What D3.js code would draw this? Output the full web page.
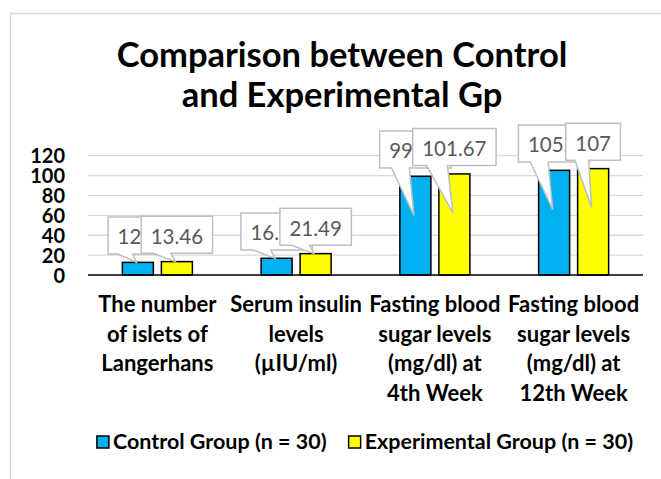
<!DOCTYPE html>
<html>
<head>
<meta charset="utf-8">
<script src="https://cdn.jsdelivr.net/npm/d3@7"></script>
<style>
  html, body { margin: 0; padding: 0; background: #ffffff; }
  svg { display: block; }
  text { font-family: Lato, "Open Sans", sans-serif; }
</style>
</head>
<body>
<svg id="chart" width="661" height="479"></svg>
<script>
// ---- data ----
const titleLines = ["Comparison between Control", "and Experimental Gp"];
const categories = ["The number of islets of Langerhans", "Serum insulin levels (µIU/ml)",
  "Fasting blood sugar levels (mg/dl) at 4th Week", "Fasting blood sugar levels (mg/dl) at 12th Week"];
const categoryLines = [
  ["The number", "of islets of", "Langerhans"],
  ["Serum insulin", "levels", "(µIU/ml)"],
  ["Fasting blood", "sugar levels", "(mg/dl) at", "4th Week"],
  ["Fasting blood", "sugar levels", "(mg/dl) at", "12th Week"]
];
const seriesNames = ["Control Group (n = 30)", "Experimental Group (n = 30)"];
const controlValues = [12.7, 16.82, 99.27, 105.3];
const experimentalValues = [13.46, 21.49, 101.67, 107];
const yTicks = [0, 20, 40, 60, 80, 100, 120];
const seriesColors = ["#00b0f0", "#ffff00"];

// ---- layout ----
const svg = d3.select("#chart");
const plot = { left: 88, right: 643, top: 155.7, bottom: 275 };

// chart frame
svg.append("path")
  .attr("d", "M10.5,479 V13.5 H661")
  .attr("fill", "none").attr("stroke", "#d9d9d9").attr("stroke-width", 1.3);

const x0 = d3.scaleBand().domain(categories).range([plot.left, plot.right]).padding(0);
const x1 = d3.scaleBand().domain([0, 1]).range([0, x0.bandwidth()])
  .paddingInner(0.205).paddingOuter(0.881);
const y = d3.scaleLinear().domain([0, 120]).range([plot.bottom, plot.top]);

// gridlines
svg.append("g").selectAll("line").data(yTicks.filter(t => t > 0)).join("line")
  .attr("x1", plot.left).attr("x2", plot.right)
  .attr("y1", d => y(d)).attr("y2", d => y(d))
  .attr("stroke", "#d9d9d9").attr("stroke-width", 1.3);

// y axis labels
const yAxis = d3.axisLeft(y).tickValues(yTicks).tickSize(0).tickPadding(0);
const gy = svg.append("g").attr("transform", "translate(65,0)").call(yAxis);
gy.select(".domain").remove();
gy.selectAll("text")
  .attr("font-family", "Lato, sans-serif")
  .attr("font-size", 20).attr("font-weight", 700).attr("fill", "#000")
  .attr("dy", "0.36em");

// title
svg.append("g").selectAll("text").data(titleLines).join("text")
  .attr("x", 342).attr("y", (d, i) => 66.7 + i * 40.5)
  .attr("text-anchor", "middle")
  .attr("font-size", 34.5).attr("font-weight", 700).attr("fill", "#000")
  .text(d => d);

// series data
const series = [controlValues, experimentalValues];

// bars
series.forEach((vals, si) => {
  svg.append("g").selectAll("rect").data(vals).join("rect")
    .attr("x", (d, i) => x0(categories[i]) + x1(si))
    .attr("y", d => y(d))
    .attr("width", x1.bandwidth())
    .attr("height", d => y(0) - y(d))
    .attr("fill", seriesColors[si])
    .attr("stroke", "#000").attr("stroke-width", 1.5);
});

// baseline
svg.append("line")
  .attr("x1", plot.left).attr("x2", plot.right)
  .attr("y1", y(0)).attr("y2", y(0))
  .attr("stroke", "#000").attr("stroke-width", 1.6);

// data label callouts (series drawn in order: control first, then experimental)
const fmt = v => String(v);
series.forEach((vals, si) => {
  const g = svg.append("g");
  vals.forEach((v, i) => {
    const cx = x0(categories[i]) + x1(si) + x1.bandwidth() / 2;
    const barTop = y(v);
    const lg = g.append("g");
    const path = lg.append("path");
    const t = lg.append("text")
      .attr("x", cx).attr("y", barTop - 18)
      .attr("text-anchor", "middle")
      .attr("font-size", 20.5).attr("fill", "#595959")
      .text(fmt(v));
    const w = t.node().getComputedTextLength() + 19;
    const h = 37;
    const bx = cx - w / 2, bBottom = barTop - 8.3, bTop = bBottom - h;
    const tipX = cx - 1.5;
    const tipY = (y(0) - barTop > 60) ? barTop + 39 : barTop;
    path.attr("d",
      `M${bx},${bTop} H${bx + w} V${bBottom} H${bx + w * 5 / 12} L${tipX},${tipY} L${bx + w * 2 / 12},${bBottom} H${bx} Z`)
      .attr("fill", "#fff").attr("stroke", "#bfbfbf").attr("stroke-width", 1.5)
      .attr("stroke-linejoin", "miter");
  });
});

// category labels
categoryLines.forEach((lines, i) => {
  const cx = x0(categories[i]) + x0.bandwidth() / 2;
  svg.append("g").selectAll("text").data(lines).join("text")
    .attr("x", cx).attr("y", (d, j) => 312.3 + j * 29.4)
    .attr("text-anchor", "middle")
    .attr("font-size", 22).attr("font-weight", 700).attr("fill", "#000")
    .text(d => d);
});

// legend
const lg = svg.append("g");
const items = seriesNames.map((name, i) => {
  const t = lg.append("text").attr("y", 449)
    .attr("font-size", 21.5).attr("font-weight", 700).attr("fill", "#000")
    .text(name);
  return { t, w: t.node().getComputedTextLength(), color: seriesColors[i] };
});
const sq = 12, sqGap = 4, itemGap = 22;
const total = d3.sum(items, d => d.w + sq + sqGap) + itemGap * (items.length - 1);
let lx = 365 - total / 2;
items.forEach(it => {
  lg.append("rect").attr("x", lx).attr("y", 436).attr("width", sq).attr("height", sq)
    .attr("fill", it.color).attr("stroke", "#000").attr("stroke-width", 1.5);
  it.t.attr("x", lx + sq + sqGap);
  lx += sq + sqGap + it.w + itemGap;
});
</script>
</body>
</html>
